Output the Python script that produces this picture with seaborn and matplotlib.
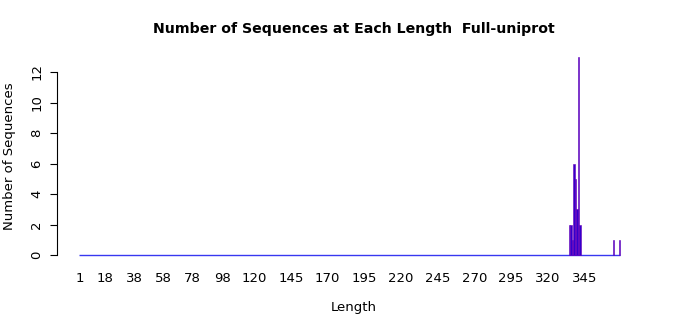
import matplotlib
matplotlib.use("Agg")
import matplotlib.pyplot as plt
import seaborn as sns
import pandas as pd

lengths = [335, 336, 337, 338, 339, 340, 341, 342, 365, 369]
counts = [2, 2, 1, 6, 5, 3, 13, 2, 1, 1]
min_length = 1
max_length = 369
xtick_labels = [1, 18, 38, 58, 78, 98, 120, 145, 170, 195, 220, 245, 270, 295, 320, 345]
yticks = [0, 2, 4, 6, 8, 10, 12]

sns.set_theme(style="white")
plt.rcParams['font.family'] = ['DejaVu Sans']
plt.rcParams['text.color'] = 'black'
plt.rcParams['axes.labelcolor'] = 'black'
plt.rcParams['xtick.color'] = 'black'
plt.rcParams['ytick.color'] = 'black'

df = pd.DataFrame({"Length": lengths, "Count": counts})

fig = plt.figure(figsize=(7.0, 3.15), dpi=100)
ax = fig.add_axes([57/700, 60/315, (650-57)/700, (255-56.75)/315])

ax.hlines(0, min_length - 0.5, max_length + 0.5, color="#3838f0", linewidth=1.0,
          zorder=1, clip_on=False)
sns.barplot(data=df, x="Length", y="Count", native_scale=True, width=1.0,
            color="#3300cc", saturation=1, edgecolor="#6a00b8", linewidth=0.4,
            ax=ax, zorder=2)
for p in ax.patches:
    p.set_clip_on(False)

ax.set_xlim(-14.5, 389.8)
ax.set_ylim(0, 13)

for s in ["top", "right", "bottom"]:
    ax.spines[s].set_visible(False)
ax.spines["left"].set_color("black")
ax.spines["left"].set_linewidth(0.8)
ax.spines["left"].set_bounds(0, 12)

ax.set_yticks(yticks)
ax.set_yticklabels([str(v) for v in yticks], rotation=90, va="center", fontsize=9.5)
ax.tick_params(axis="y", length=5, width=0.8, color="black", pad=5, left=True)

ax.set_xticks(xtick_labels)
ax.set_xticklabels([str(v) for v in xtick_labels], fontsize=9.5)
ax.tick_params(axis="x", length=0, pad=12)

ax.set_xlabel("Length", fontsize=9.5, labelpad=12)
ax.set_ylabel("Number of Sequences", fontsize=9.5, labelpad=10)
ax.set_title("Number of Sequences at Each Length  Full-uniprot", fontsize=10.2,
             fontweight="bold", pad=17)
ax.grid(False)

fig.savefig("out.png", dpi=100)
